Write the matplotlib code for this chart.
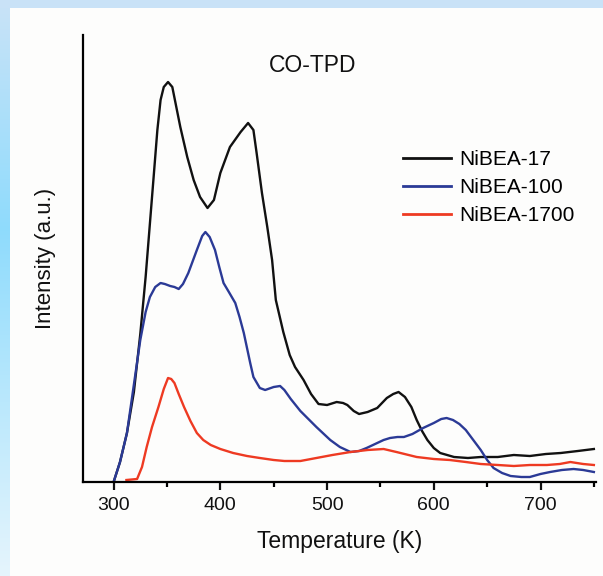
import numpy as np
import matplotlib
matplotlib.use("Agg")
import matplotlib.pyplot as plt
from matplotlib.ticker import MultipleLocator

plt.rcParams['font.family'] = ['Liberation Sans', 'DejaVu Sans']

# CO-TPD profiles: temperature (K) and intensity (a.u.)
t_17 = [300, 306, 312.5, 319, 325, 330, 333, 337.5, 341, 344, 347, 351, 355, 362.5, 369, 375,
        381, 388, 394, 400, 409, 419, 426, 431, 434, 439, 444, 448.5, 452, 459, 465, 470,
        478, 485, 492, 500, 509, 515, 519, 525, 530, 538, 547, 556, 562, 567, 573, 579,
        584, 589, 594, 600, 606, 619, 632, 644, 660, 675, 690, 705, 719, 735, 750]
i_17 = [0, 20, 49, 90, 148, 205, 245, 305, 352, 382, 395, 400, 395, 355, 325, 302,
        285, 274, 282, 309, 335, 350, 359, 352, 329, 289, 255, 222, 182, 150, 127, 115,
        102, 88, 78, 77, 80, 79, 77, 71, 68, 70, 74, 84, 88, 90, 85, 75,
        62, 51, 42, 34, 29, 25, 24, 25, 25, 27, 26, 28, 29, 31, 33]

t_100 = [300, 306, 312.5, 318, 325, 330, 334, 339, 344, 348, 353, 357, 361, 365, 370,
         378, 383, 386, 390, 395, 399, 403, 408, 414, 418, 422, 428, 431, 437, 442, 450,
         456, 460, 466, 475, 490, 503, 512, 522, 530, 537, 545, 553, 559, 566, 572, 580,
         590, 600, 607, 612, 618, 624, 630, 637, 644, 650, 656, 664, 672, 682, 690, 700,
         709, 720, 731, 740, 750]
i_100 = [0, 20, 49, 90, 142, 170, 185, 195, 199, 198, 196, 195, 193, 198, 209,
         232, 246, 250, 245, 232, 215, 199, 190, 179, 165, 149, 119, 105, 94, 92, 95,
         96, 92, 83, 71, 55, 42, 35, 30, 31, 34, 38, 42, 44, 45, 45, 48,
         54, 59, 63, 64, 62, 58, 52, 42, 32, 22, 14, 9, 6, 5, 5, 8,
         10, 12, 13, 12, 10]

t_1700 = [312, 322, 326.6, 331, 336, 342, 347, 351, 354, 357, 361, 366, 372, 378, 384,
          391, 400, 412, 425, 437, 450, 460, 475, 490, 505, 522, 538, 553, 565, 584,
          600, 615, 630, 644, 660, 675, 690, 706, 718, 728, 740, 750]
i_1700 = [2, 3, 15, 35, 55, 75, 93, 104, 103, 99, 88, 75, 61, 49, 42,
          37, 33, 29, 26, 24, 22, 21, 21, 24, 27, 30, 32, 33, 30, 25,
          23, 22, 20, 18, 17, 16, 17, 17, 18, 20, 18, 17]

labels = ['NiBEA-17', 'NiBEA-100', 'NiBEA-1700']
colors = ['#111111', '#2b3a96', '#ee3a22']

W, H = 603, 576
fig = plt.figure(figsize=(W / 100, H / 100), dpi=100)

# slide-style backdrop: pale panel with a blue gradient border on top and left
bg = np.ones((H, W, 3)) * np.array([0.993, 0.993, 0.990])
yy = np.linspace(0, 1, H)[:, None]
top_c = np.array([0.79, 0.89, 0.97])
mid_c = np.array([0.56, 0.86, 0.99])
bot_c = np.array([0.90, 0.96, 0.99])
w = np.clip(yy / 0.4, 0, 1)
w2 = np.clip((yy - 0.4) / 0.6, 0, 1)
col = np.where(yy < 0.4, top_c * (1 - w) + mid_c * w, mid_c * (1 - w2) + bot_c * w2)
bg[:, :10, :] = col[:, None, :]
bg[:8, :, :] = np.array([0.79, 0.89, 0.97])
bga = fig.add_axes([0, 0, 1, 1], zorder=-5)
bga.imshow(bg, aspect='auto', interpolation='bilinear')
bga.axis('off')

ax = fig.add_axes([83.3 / W, 1 - 482 / H, (596 - 83.3) / W, (482 - 35) / H])
ax.patch.set_alpha(0)

for t, i, lab, c in zip([t_17, t_100, t_1700], [i_17, i_100, i_1700], labels, colors):
    ax.plot(t, i, color=c, lw=1.7, label=lab)

ax.set_xlim(271.6, 752)
ax.set_ylim(0, 447)
ax.xaxis.set_major_locator(MultipleLocator(100))
ax.xaxis.set_minor_locator(MultipleLocator(50))
ax.set_yticks([])
for s in ['top', 'right']:
    ax.spines[s].set_visible(False)
for s in ['left', 'bottom']:
    ax.spines[s].set_linewidth(1.6)
ax.tick_params(axis='x', which='major', direction='out', length=5.5, width=1.6,
               labelsize=14, pad=5, colors='#111111')
ax.tick_params(axis='x', which='minor', direction='out', length=3.5, width=1.6)

ax.set_xlabel('Temperature (K)', fontsize=16.5, labelpad=12, color='#111111')
ax.set_ylabel('Intensity (a.u.)', fontsize=16, labelpad=20, color='#111111')

fig.text(313 / W, 1 - 66 / H, 'CO-TPD', fontsize=16.5, ha='center', va='center',
         color='#111111')

leg = ax.legend(loc='upper left', bbox_to_anchor=((395 - 83.3) / (596 - 83.3), (482 - 142) / 447),
                frameon=False, fontsize=15, handlelength=2.3, handletextpad=0.4,
                labelspacing=0.42, borderaxespad=0)
for line in leg.get_lines():
    line.set_linewidth(2)

fig.savefig('out.png', dpi=100)
